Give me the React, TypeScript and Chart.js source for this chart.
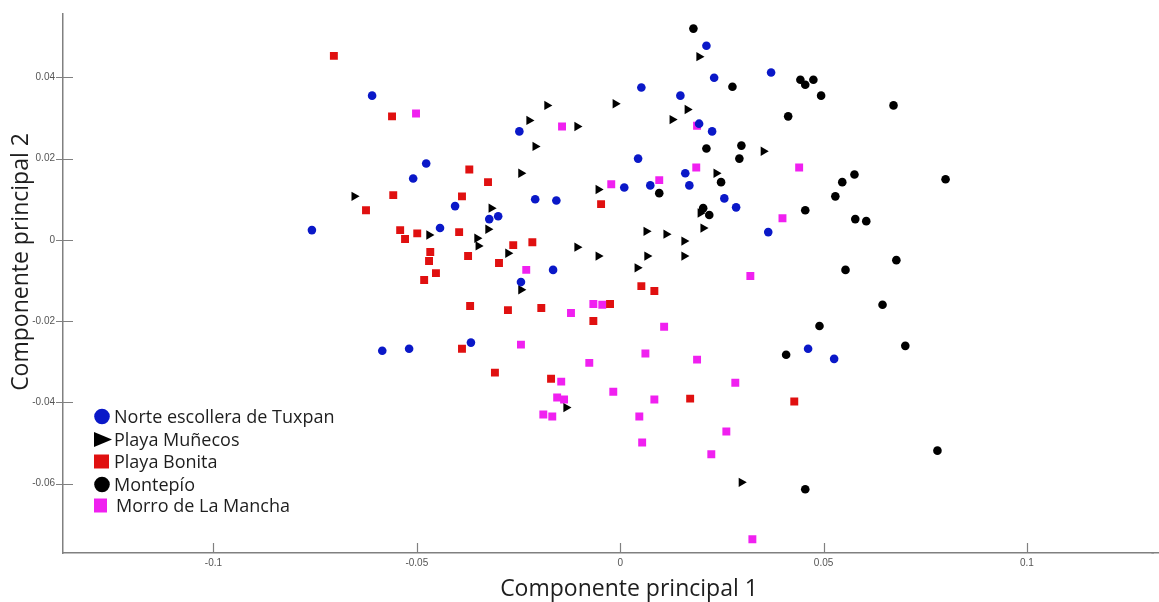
import React, { useEffect, useRef } from 'react';
import { Chart, registerables } from 'chart.js';

Chart.register(...registerables);

// ---------- axis definitions ----------
const X_TICKS = [-0.1, -0.05, 0, 0.05, 0.1];
const X_TICK_LABELS = ['-0.1', '-0.05', '0', '0.05', '0.1'];
const Y_TICKS = [-0.06, -0.04, -0.02, 0, 0.02, 0.04];
const Y_TICK_LABELS = ['-0.06', '-0.04', '-0.02', '0', '0.02', '0.04'];
const X_MIN = -0.137;
const X_MAX = 0.1311;
const Y_MIN = -0.0771;
const Y_MAX = 0.0556;
const X_TITLE = 'Componente principal 1';
const Y_TITLE = 'Componente principal 2';

// ---------- series ----------
const SERIES_NAMES = [
  'Norte escollera de Tuxpan',
  'Playa Muñecos',
  'Playa Bonita',
  'Montepío',
  'Morro de La Mancha',
];

const tuxpanX = [-0.0758, -0.0610, -0.0477, -0.0509, -0.0406, -0.0322, -0.0300, -0.0443, -0.0248, -0.0209, -0.0157, 0.0052, 0.0148, 0.0212, 0.0231, 0.0194, 0.0226, 0.0044, 0.0010, 0.0074, 0.0160, 0.0170, -0.0165, 0.0371, 0.0256, 0.0285, 0.0364, -0.0585, -0.0519, -0.0367, -0.0244, 0.0462, 0.0526];
const tuxpanY = [0.0024, 0.0355, 0.0188, 0.0151, 0.0083, 0.0051, 0.0058, 0.0029, 0.0267, 0.0100, 0.0097, 0.0375, 0.0355, 0.0478, 0.0399, 0.0286, 0.0267, 0.0200, 0.0129, 0.0134, 0.0164, 0.0134, -0.0074, 0.0412, 0.0102, 0.0080, 0.0019, -0.0273, -0.0268, -0.0253, -0.0104, -0.0268, -0.0293];

const munecosX = [-0.0654, -0.0470, -0.0317, -0.0325, -0.0352, -0.0349, -0.0276, -0.0244, -0.0224, -0.0180, -0.0209, -0.0244, -0.0106, -0.0012, -0.0054, -0.0106, -0.0054, 0.0064, 0.0113, 0.0157, 0.0066, 0.0157, 0.0042, 0.0194, 0.0128, 0.0165, 0.0236, 0.0197, 0.0204, 0.0352, -0.0133, 0.0298];
const munecosY = [0.0107, 0.0012, 0.0078, 0.0026, 0.0004, -0.0015, -0.0033, -0.0123, 0.0294, 0.0331, 0.0230, 0.0164, 0.0279, 0.0335, 0.0124, -0.0018, -0.0040, 0.0021, 0.0014, -0.0003, -0.0040, -0.0040, -0.0069, 0.0451, 0.0296, 0.0321, 0.0164, 0.0066, 0.0029, 0.0218, -0.0413, -0.0597];

const bonitaX = [-0.0704, -0.0561, -0.0558, -0.0625, -0.0371, -0.0325, -0.0389, -0.0541, -0.0529, -0.0499, -0.0396, -0.0467, -0.0470, -0.0374, -0.0298, -0.0453, -0.0263, -0.0216, -0.0482, -0.0047, 0.0052, 0.0084, -0.0369, -0.0389, -0.0308, -0.0276, -0.0194, -0.0066, -0.0025, -0.0170, 0.0172, 0.0428];
const bonitaY = [0.0453, 0.0304, 0.0110, 0.0073, 0.0173, 0.0142, 0.0107, 0.0024, 0.0002, 0.0016, 0.0019, -0.0030, -0.0052, -0.0040, -0.0057, -0.0082, -0.0013, -0.0006, -0.0099, 0.0088, -0.0114, -0.0126, -0.0163, -0.0268, -0.0327, -0.0173, -0.0168, -0.0200, -0.0158, -0.0342, -0.0391, -0.0398];

const montepioX = [0.0180, 0.0276, 0.0413, 0.0212, 0.0298, 0.0293, 0.0248, 0.0096, 0.0204, 0.0219, 0.0443, 0.0455, 0.0475, 0.0494, 0.0672, 0.0576, 0.0546, 0.0529, 0.0800, 0.0455, 0.0578, 0.0605, 0.0679, 0.0554, 0.0645, 0.0490, 0.0408, 0.0701, 0.0780, 0.0455];
const montepioY = [0.0520, 0.0377, 0.0304, 0.0225, 0.0232, 0.0200, 0.0142, 0.0115, 0.0078, 0.0061, 0.0394, 0.0382, 0.0394, 0.0355, 0.0331, 0.0161, 0.0142, 0.0107, 0.0149, 0.0073, 0.0051, 0.0046, -0.0050, -0.0074, -0.0160, -0.0212, -0.0283, -0.0261, -0.0519, -0.0614];

const manchaX = [-0.0502, -0.0143, -0.0022, 0.0096, 0.0187, 0.0189, 0.0399, 0.0320, 0.0440, -0.0231, -0.0066, -0.0044, -0.0121, 0.0108, -0.0244, -0.0076, 0.0062, 0.0189, 0.0283, -0.0145, -0.0017, -0.0155, -0.0138, 0.0084, -0.0189, -0.0167, 0.0047, 0.0261, 0.0054, 0.0224, 0.0325];
const manchaY = [0.0311, 0.0279, 0.0137, 0.0147, 0.0178, 0.0281, 0.0053, -0.0089, 0.0178, -0.0074, -0.0158, -0.0160, -0.0180, -0.0214, -0.0258, -0.0303, -0.0280, -0.0295, -0.0352, -0.0349, -0.0374, -0.0388, -0.0393, -0.0393, -0.0430, -0.0435, -0.0435, -0.0472, -0.0499, -0.0528, -0.0737];

// ---------- styles ----------
const COLORS = ['#0a18c8', '#000000', '#e01010', '#000000', '#f020f0'];
const STYLES = ['circle', 'triangle', 'rect', 'circle', 'rect'];
const RADII = [4.3, 5.4, 5.6, 4.3, 5.6];
const ROTATIONS = [0, 90, 0, 0, 0];

const pairs = (xs: number[], ys: number[]) => xs.map((x, i) => ({ x, y: ys[i] }));

const AXIS_COLOR = '#808080';
const TICK_FONT = "'Liberation Sans', Arial, sans-serif";
const TITLE_FONT = "'Open Sans', 'Noto Sans', sans-serif";

const labelFor = (ticks: number[], labels: string[], v: number) => {
  const i = ticks.findIndex((t) => Math.abs(t - v) < 1e-9);
  return i >= 0 ? labels[i] : '';
};

const decorPlugin = {
  id: 'decor',
  afterDraw(chart: any) {
    const { ctx, chartArea } = chart;
    const xs = chart.scales.x;
    const ys = chart.scales.y;
    ctx.save();
    // extend the x axis line to the right edge of the picture
    const axisY = Math.round(chartArea.bottom - 0.75) + 0.75;
    ctx.strokeStyle = AXIS_COLOR;
    ctx.lineWidth = 1.5;
    ctx.beginPath();
    ctx.moveTo(chartArea.right - 2, axisY);
    ctx.lineTo(chart.width, axisY);
    ctx.stroke();
    // inward tick marks
    ctx.lineWidth = 1.2;
    ctx.beginPath();
    X_TICKS.forEach((v) => {
      const px = Math.round(xs.getPixelForValue(v)) + 0.5;
      ctx.moveTo(px, chartArea.bottom);
      ctx.lineTo(px, chartArea.bottom - 10);
    });
    Y_TICKS.forEach((v) => {
      const py = Math.round(ys.getPixelForValue(v)) + 0.5;
      ctx.moveTo(chartArea.left - 7, py);
      ctx.lineTo(chartArea.left + 10, py);
    });
    ctx.stroke();

    // axis titles
    ctx.fillStyle = '#1e1e1e';
    ctx.font = `23px ${TITLE_FONT}`;
    ctx.textAlign = 'center';
    ctx.textBaseline = 'alphabetic';
    ctx.fillText(X_TITLE, 629, 596);
    ctx.save();
    ctx.translate(28, 262);
    ctx.rotate(-Math.PI / 2);
    ctx.fillText(Y_TITLE, 0, 0);
    ctx.restore();

    // legend
    const baselines = [423, 446, 468, 491, 512];
    const textX = [114, 114, 114, 114, 116];
    ctx.font = `18px ${TITLE_FONT}`;
    ctx.textAlign = 'left';
    chart.data.datasets.forEach((ds: any, i: number) => {
      const cy = baselines[i] - 6.5;
      const cx = 102;
      ctx.fillStyle = ds.backgroundColor;
      ctx.beginPath();
      if (ds.pointStyle === 'circle') {
        ctx.arc(cx, cy, 7.8, 0, Math.PI * 2);
      } else if (ds.pointStyle === 'triangle') {
        ctx.moveTo(cx + 10, cy);
        ctx.lineTo(cx - 8, cy - 7.5);
        ctx.lineTo(cx - 8, cy + 7.5);
        ctx.closePath();
      } else {
        const w = i === 4 ? 13 : 15;
        ctx.rect(94, cy - 7, w, 14);
      }
      ctx.fill();
      ctx.fillStyle = '#1e1e1e';
      ctx.fillText(ds.label, textX[i], baselines[i]);
    });
    ctx.restore();
  },
};

export default function App() {
  const canvasRef = useRef<HTMLCanvasElement | null>(null);

  useEffect(() => {
    const canvas = canvasRef.current;
    if (!canvas) return;
    const seriesData = [
      pairs(tuxpanX, tuxpanY),
      pairs(munecosX, munecosY),
      pairs(bonitaX, bonitaY),
      pairs(montepioX, montepioY),
      pairs(manchaX, manchaY),
    ];
    const chart = new Chart(canvas, {
      type: 'scatter',
      data: {
        datasets: SERIES_NAMES.map((name, i) => ({
          label: name,
          data: seriesData[i],
          pointStyle: STYLES[i] as any,
          pointRadius: RADII[i],
          pointRotation: ROTATIONS[i],
          backgroundColor: COLORS[i],
          borderColor: COLORS[i],
          borderWidth: 0,
          showLine: false,
        })),
      },
      options: {
        animation: false,
        responsive: false,
        maintainAspectRatio: false,
        layout: { padding: { top: 12, right: 0, bottom: 0, left: 0 } },
        plugins: {
          legend: { display: false },
          tooltip: { enabled: false },
        },
        scales: {
          x: {
            type: 'linear',
            min: X_MIN,
            max: X_MAX,
            afterBuildTicks: (s: any) => {
              s.ticks = X_TICKS.map((v) => ({ value: v }));
            },
            afterFit: (s: any) => {
              s.height = 49;
            },
            grid: { display: false, drawTicks: false },
            border: { display: true, color: AXIS_COLOR, width: 1.5 },
            ticks: {
              padding: 4,
              color: '#555555',
              font: { size: 10, family: TICK_FONT },
              maxRotation: 0,
              callback: (v: any) => labelFor(X_TICKS, X_TICK_LABELS, Number(v)),
            },
          },
          y: {
            type: 'linear',
            min: Y_MIN,
            max: Y_MAX,
            afterBuildTicks: (s: any) => {
              s.ticks = Y_TICKS.map((v) => ({ value: v }));
            },
            afterFit: (s: any) => {
              s.width = 63;
            },
            grid: { display: false, drawTicks: false },
            border: { display: true, color: AXIS_COLOR, width: 1.5 },
            ticks: {
              padding: 8,
              color: '#555555',
              font: { size: 10, family: TICK_FONT },
              callback: (v: any) => labelFor(Y_TICKS, Y_TICK_LABELS, Number(v)),
            },
          },
        },
      },
      plugins: [decorPlugin],
    });
    return () => chart.destroy();
  }, []);

  return (
    <div style={{ position: 'absolute', left: 0, top: 0, width: 1159, height: 602, background: '#ffffff' }}>
      <canvas ref={canvasRef} width={1159} height={602} style={{ display: 'block', width: 1159, height: 602 }} />
    </div>
  );
}
